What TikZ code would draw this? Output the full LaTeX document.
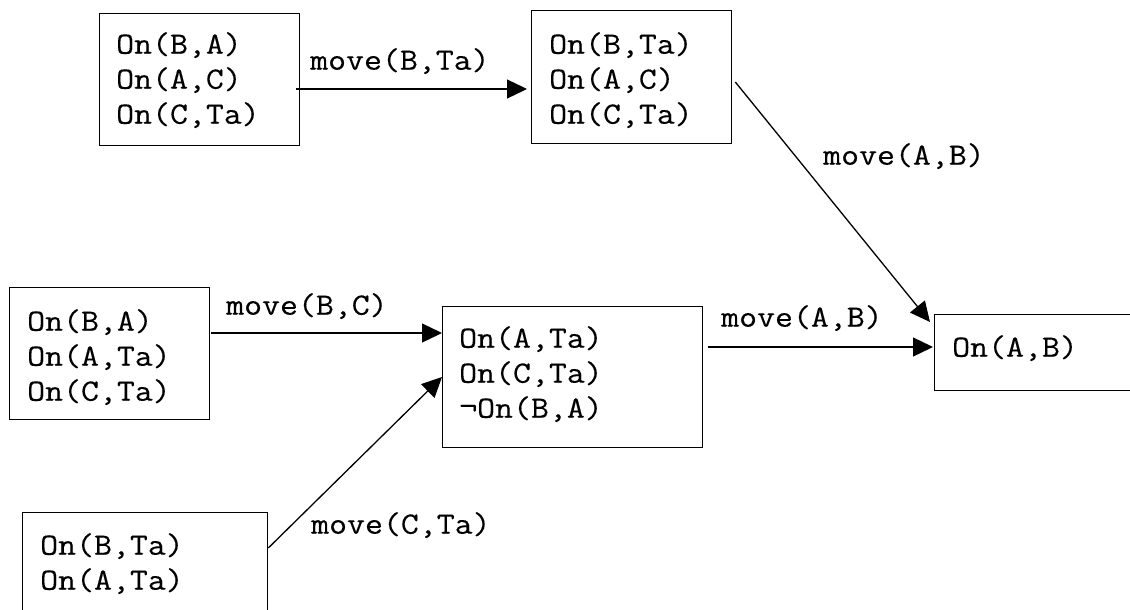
\documentclass[tikz,border=0pt]{standalone}
\usepackage{fontspec}
\newfontfamily\statefont[FakeStretch=1.124,FakeBold=0.3]{Latin Modern Mono}
\usetikzlibrary{arrows.meta,calc}
\begin{document}
\begin{tikzpicture}[x=1pt,y=-1pt,
  state/.style={draw, line width=1.3pt, rectangle, inner sep=0pt, anchor=north west},
  facts/.style={font=\statefont\fontsize{31}{35}\selectfont, align=left, inner sep=0pt, anchor=north west},
  act/.style={font=\statefont\fontsize{31}{35}\selectfont, inner sep=0pt, anchor=north west},
  trans/.style={line width=1.3pt, -{Triangle[length=20pt,width=19pt]}}]
\useasboundingbox (0,0) rectangle (1130,610);
\clip (0,0) rectangle (1130,610);

% state boxes
\node[state, minimum width=200pt, minimum height=132pt] (b1) at (99,13) {};
\node[state, minimum width=200pt, minimum height=133pt] (b2) at (531,10) {};
\node[state, minimum width=200pt, minimum height=132pt] (b3) at (9,287) {};
\node[state, minimum width=260pt, minimum height=141pt] (b4) at (442,306) {};
\node[state, minimum width=210pt, minimum height=76pt]  (b5) at (934,314) {};
\node[state, minimum width=245pt, minimum height=110pt] (b6) at (22,512) {};

% facts holding in each state
\node[facts] (f1) at (116,32) {On(B,A)\\On(A,C)\\On(C,Ta)};
\node[facts] (f2) at (549,32) {On(B,Ta)\\On(A,C)\\On(C,Ta)};
\node[facts] (f3) at (27,309) {On(B,A)\\On(A,Ta)\\On(C,Ta)};
\node[facts] (f4) at (459,326) {On(A,Ta)\\On(C,Ta)\\¬On(B,A)};
\node[facts] (f5) at (952,335) {On(A,B)};
\node[facts] (f6) at (40,533) {On(B,Ta)\\On(A,Ta)};

% actions
\node[act] (a1) at (310,48) {move(B,Ta)};
\node[act] (a2) at (823,143) {move(A,B)};
\node[act] (a3) at (226,293) {move(B,C)};
\node[act] (a4) at (721,305) {move(A,B)};
\node[act] (a5) at (311,512) {move(C,Ta)};

% transitions
\draw[trans] ($(b1.north east)+(-4,76)$) -- ($(b2.north west)+(-4,79)$);
\draw[trans] ($(b2.north east)+(3,72)$) -- ($(b5.north west)+(-4,8)$);
\draw[trans] ($(b3.north east)+(1,46)$) -- ($(b4.north west)+(0,27)$);
\draw[trans] ($(b6.north east)+(0,36)$) -- ($(b4.north west)+(0,71)$);
\draw[trans] ($(b4.north east)+(5,41)$) -- ($(b5.north west)+(-1,33)$);
\end{tikzpicture}
\end{document}
